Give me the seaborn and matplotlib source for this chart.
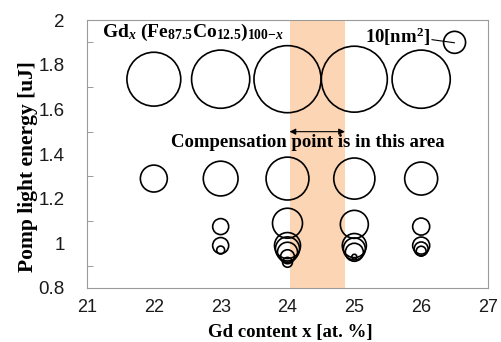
import matplotlib
matplotlib.use("Agg")
import matplotlib.pyplot as plt
from matplotlib.ticker import MultipleLocator
import pandas as pd
import seaborn as sns

# bubble data: Gd content, pump energy, bubble area [nm^2]
gd_content = [22, 23, 24, 25, 26,
              22, 23, 24, 25, 26,
              23, 24, 25, 26,
              23, 23,
              24, 24, 24, 24, 24,
              25, 25, 25, 25,
              26, 26, 26]
pump_energy = [1.735, 1.735, 1.735, 1.735, 1.735,
               1.29, 1.29, 1.29, 1.29, 1.29,
               1.075, 1.09, 1.085, 1.075,
               0.99, 0.97,
               0.99, 0.975, 0.96, 0.94, 0.915,
               0.99, 0.975, 0.96, 0.94,
               0.99, 0.975, 0.965]
area_nm2 = [60, 70, 93, 90, 70,
            15, 25, 38, 35, 22.5,
            5.3, 18.6, 16.2, 6,
            5.3, 1.3,
            14, 12, 8.3, 4, 2,
            12, 10, 6.7, 0.5,
            6, 4, 2]

# reference bubble (10 nm^2)
key_x = [26.5]
key_y = [1.90]
key_area = [10]

# compensation region
comp_lo, comp_hi = 24.03, 24.86

x_ticks = [21, 22, 23, 24, 25, 26, 27]
y_ticks = [0.8, 1.0, 1.2, 1.4, 1.6, 1.8, 2.0]
y_ticklabels = ["0.8", "1", "1.2", "1.4", "1.6", "1.8", "2"]

df = pd.DataFrame({"gd": gd_content, "energy": pump_energy, "area": area_nm2})
key_df = pd.DataFrame({"gd": key_x, "energy": key_y, "area": key_area})

sns.set_theme(style="white")
plt.rcParams["font.family"] = ["Liberation Sans", "DejaVu Sans"]
plt.rcParams["mathtext.fontset"] = "custom"
plt.rcParams["mathtext.rm"] = "Liberation Serif:bold"
plt.rcParams["mathtext.bf"] = "Liberation Serif:bold"
plt.rcParams["mathtext.it"] = "Liberation Serif:italic:bold"

fig = plt.figure(figsize=(5.01, 3.42), dpi=100)
ax = fig.add_axes([87 / 501, 54 / 342, 401 / 501, 268 / 342])

ax.axvspan(comp_lo, comp_hi, color="#FCD5B4", lw=0, zorder=0)

# area in points^2 ~ 25.06 per nm^2 at this scale
for d in (df, key_df):
    sns.scatterplot(data=d, x="gd", y="energy", size="area",
                    sizes=(0, 2506), size_norm=(0, 100), legend=False,
                    facecolor="none", edgecolor="black", linewidth=1.2,
                    ax=ax, zorder=3)

ax.set_xlim(21, 27)
ax.set_ylim(0.8, 2.0)
ax.set_xticks(x_ticks)
ax.set_yticks(y_ticks)
ax.set_yticklabels(y_ticklabels)
ax.yaxis.set_minor_locator(MultipleLocator(0.1))
ax.tick_params(axis="both", which="both", direction="in", color="#9a9a9a",
               width=0.7, labelsize=13.5, labelcolor="#1a1a1a")
ax.tick_params(axis="x", which="major", length=4, pad=8, labelsize=13)
ax.tick_params(axis="y", which="major", length=4, pad=16)
ax.tick_params(axis="y", which="minor", length=4, left=True)
for sp in ax.spines.values():
    sp.set_color("#9a9a9a")
    sp.set_linewidth(0.8)
ax.set_xlabel("")
ax.set_ylabel("")

serif = dict(family="Liberation Serif", fontweight="bold", color="black")

ax.text(21.22, 1.925,
        r"$\mathbf{Gd}_{\mathit{x}}\ \mathbf{(Fe}_{\mathbf{87.5}}\mathbf{Co}_{\mathbf{12.5}}\mathbf{)}_{\mathbf{100}\mathbf{-}\mathit{x}}$",
        fontsize=14, ha="left", va="baseline", color="black")
ax.text(26.13, 1.897, r"10[nm$^{\mathbf{2}}$]", fontsize=13.5, ha="right",
        va="baseline", **serif)
ax.plot([26.16, 26.5], [1.912, 1.898], color="black", lw=0.8, zorder=4)

ax.annotate("", xy=(comp_lo, 1.50), xytext=(comp_hi, 1.50),
            arrowprops=dict(arrowstyle="<|-|>", color="black", lw=0.8,
                            mutation_scale=9, shrinkA=0, shrinkB=0))
ax.text(24.31, 1.452, "Compensation point is in this area", fontsize=13.5,
        ha="center", va="center", **serif)

fig.text(28 / 501, 1 - 167 / 342, "Pomp light energy [uJ]", rotation=90,
         ha="center", va="center", fontsize=15.5, **serif)
fig.text(290 / 501, 0.5 / 342, "Gd content x [at. %]", ha="center",
         va="bottom", fontsize=13.5, **serif)

fig.savefig("out.png", dpi=100)
